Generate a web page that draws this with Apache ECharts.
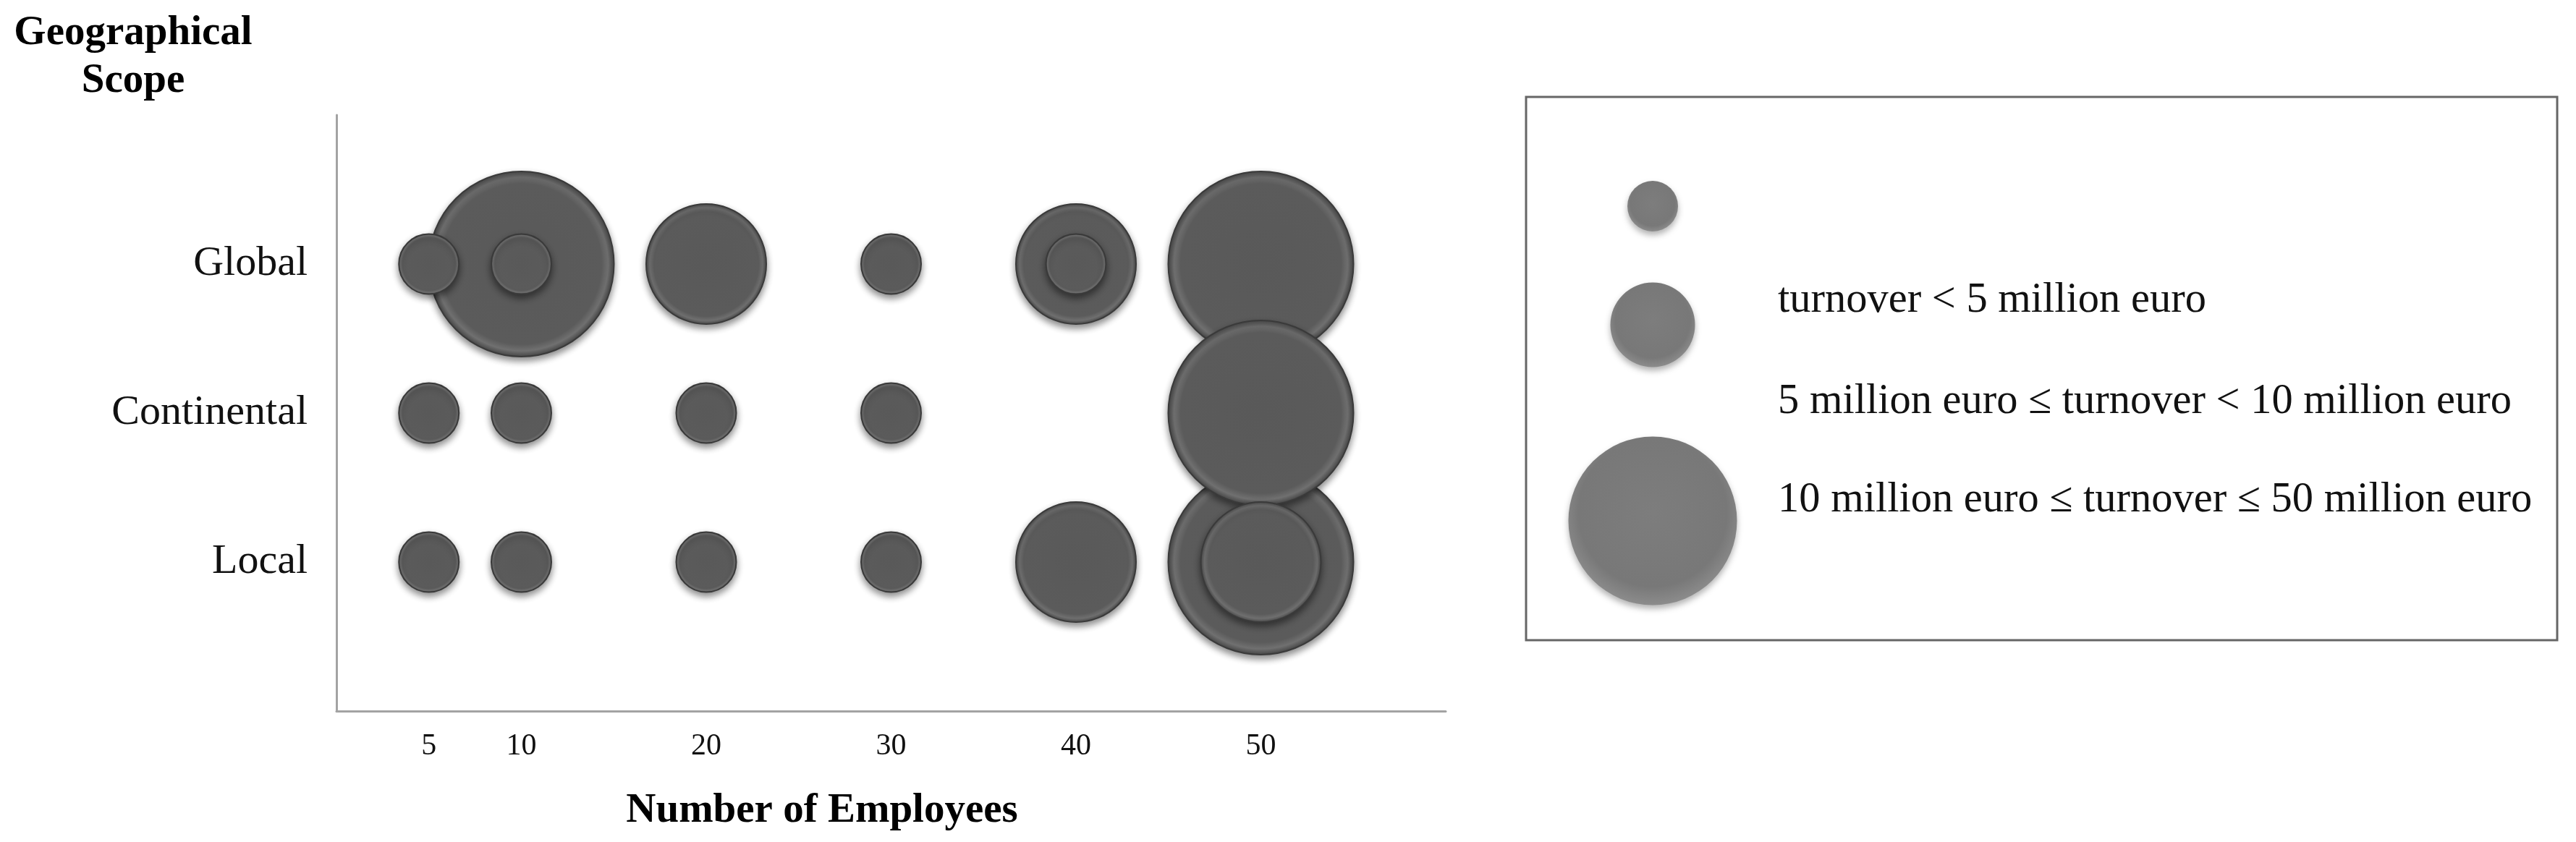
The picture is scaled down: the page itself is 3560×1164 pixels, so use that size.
<!DOCTYPE html>
<html>
<head>
<meta charset="utf-8">
<title>Geographical scope vs employees</title>
<script src="https://cdn.jsdelivr.net/npm/echarts@6/dist/echarts.min.js"></script>
<style>
    html, body { margin: 0; padding: 0; background: #fff; }
    #main { width: 3560px; height: 1164px; }
</style>
</head>
<body>
<div id="main"></div>
<script>
// y categories, bottom to top
var scopes = ['Local', 'Continental', 'Global'];
// x tick labels
var employeeTicks = [5, 10, 20, 30, 40, 50];

// one entry per bubble, big ones first so the small ones sit on top
var bubbleEmployees = [10, 50, 50, 50, 20, 40, 40, 50, 5, 10, 30, 40, 5, 10, 20, 30, 5, 10, 20, 30];
var bubbleScope = ['Global', 'Global', 'Local', 'Continental',
    'Global', 'Global', 'Local', 'Local',
    'Global', 'Global', 'Global', 'Global',
    'Continental', 'Continental', 'Continental', 'Continental',
    'Local', 'Local', 'Local', 'Local'];
// turnover class: 1 small, 2 medium, 3 large
var bubbleClass = [3, 3, 3, 3, 2, 2, 2, 2, 1, 1, 1, 1, 1, 1, 1, 1, 1, 1, 1, 1];

// legend texts
var legendLabels = [
    'turnover < 5 million euro',
    '5 million euro \u2264 turnover < 10 million euro',
    '10 million euro \u2264 turnover \u2264 50 million euro'
];

var classSize = {1: 83, 2: 166, 3: 256};   // bubble diameter in px
var legendSize = [70, 117, 233];
var serif = '"Liberation Serif", "Times New Roman", serif';

var myChart = echarts.init(document.getElementById('main'));

var points = [];
for (var i = 0; i < bubbleEmployees.length; i++) {
    points.push([bubbleEmployees[i], scopes.indexOf(bubbleScope[i]) + 1, bubbleClass[i]]);
}

var bubbleFill = {
    type: 'radial', x: 0.5, y: 0.5, r: 0.5,
    colorStops: [
        {offset: 0, color: '#595959'},
        {offset: 0.86, color: '#5b5b5b'},
        {offset: 0.93, color: '#707070'},
        {offset: 1, color: '#464646'}
    ]
};
var legendFill = {
    type: 'radial', x: 0.5, y: 0.45, r: 0.55,
    colorStops: [
        {offset: 0, color: '#7d7d7d'},
        {offset: 0.8, color: '#787878'},
        {offset: 1, color: '#8c8c8c'}
    ]
};

// legend box drawn as graphic
var legendGraphic = [{
    type: 'rect',
    shape: {x: 2109, y: 134, width: 1425, height: 751},
    style: {fill: '#fff', stroke: '#666', lineWidth: 3}
}];
var swatchCy = [285, 449, 720];
for (var k = 0; k < legendSize.length; k++) {
    legendGraphic.push({
        type: 'circle',
        shape: {cx: 2284, cy: swatchCy[k], r: legendSize[k] / 2},
        style: {fill: legendFill, shadowBlur: 8, shadowOffsetY: 5, shadowColor: 'rgba(0,0,0,0.3)'}
    });
}
var labelCy = [416, 556, 692];
for (var j = 0; j < legendLabels.length; j++) {
    legendGraphic.push({
        type: 'text',
        x: 2457, y: labelCy[j],
        style: {text: legendLabels[j], font: '58.5px ' + serif, fill: '#111', textVerticalAlign: 'middle'}
    });
}

var option = {
    backgroundColor: '#fff',
    animation: false,
    grid: {left: 465, right: 1562, top: 159, bottom: 181},
    xAxis: {
        type: 'value',
        min: 0,
        max: 60,
        axisLine: {show: true, lineStyle: {color: '#a3a3a3', width: 3}},
        axisTick: {show: false},
        splitLine: {show: false},
        axisLabel: {
            customValues: employeeTicks,
            margin: 28,
            fontFamily: serif,
            fontSize: 42,
            color: '#111'
        }
    },
    yAxis: {
        type: 'value',
        min: 0,
        max: 4,
        axisLine: {show: true, lineStyle: {color: '#a3a3a3', width: 3}},
        axisTick: {show: false},
        splitLine: {show: false},
        axisLabel: {
            customValues: [1, 2, 3],
            margin: 40,
            fontFamily: serif,
            fontSize: 58,
            color: '#111',
            formatter: function (v) { return scopes[v - 1]; }
        }
    },
    series: [{
        type: 'scatter',
        data: points,
        symbolSize: function (d) { return classSize[d[2]]; },
        itemStyle: {
            color: bubbleFill,
            opacity: 1,
            borderColor: '#3a3a3a',
            borderWidth: 2,
            shadowBlur: 10,
            shadowOffsetY: 5,
            shadowColor: 'rgba(0,0,0,0.45)'
        }
    }],
    graphic: [{
        type: 'text',
        x: 184, y: 13,
        style: {
            text: 'Geographical\nScope',
            font: 'bold 57px ' + serif,
            fill: '#000',
            textAlign: 'center',
            lineHeight: 66
        }
    }, {
        type: 'text',
        x: 1136, y: 1121,
        style: {
            text: 'Number of Employees',
            font: 'bold 57px ' + serif,
            fill: '#000',
            textAlign: 'center',
            textVerticalAlign: 'middle'
        }
    }].concat(legendGraphic)
};
myChart.setOption(option);
</script>
</body>
</html>
